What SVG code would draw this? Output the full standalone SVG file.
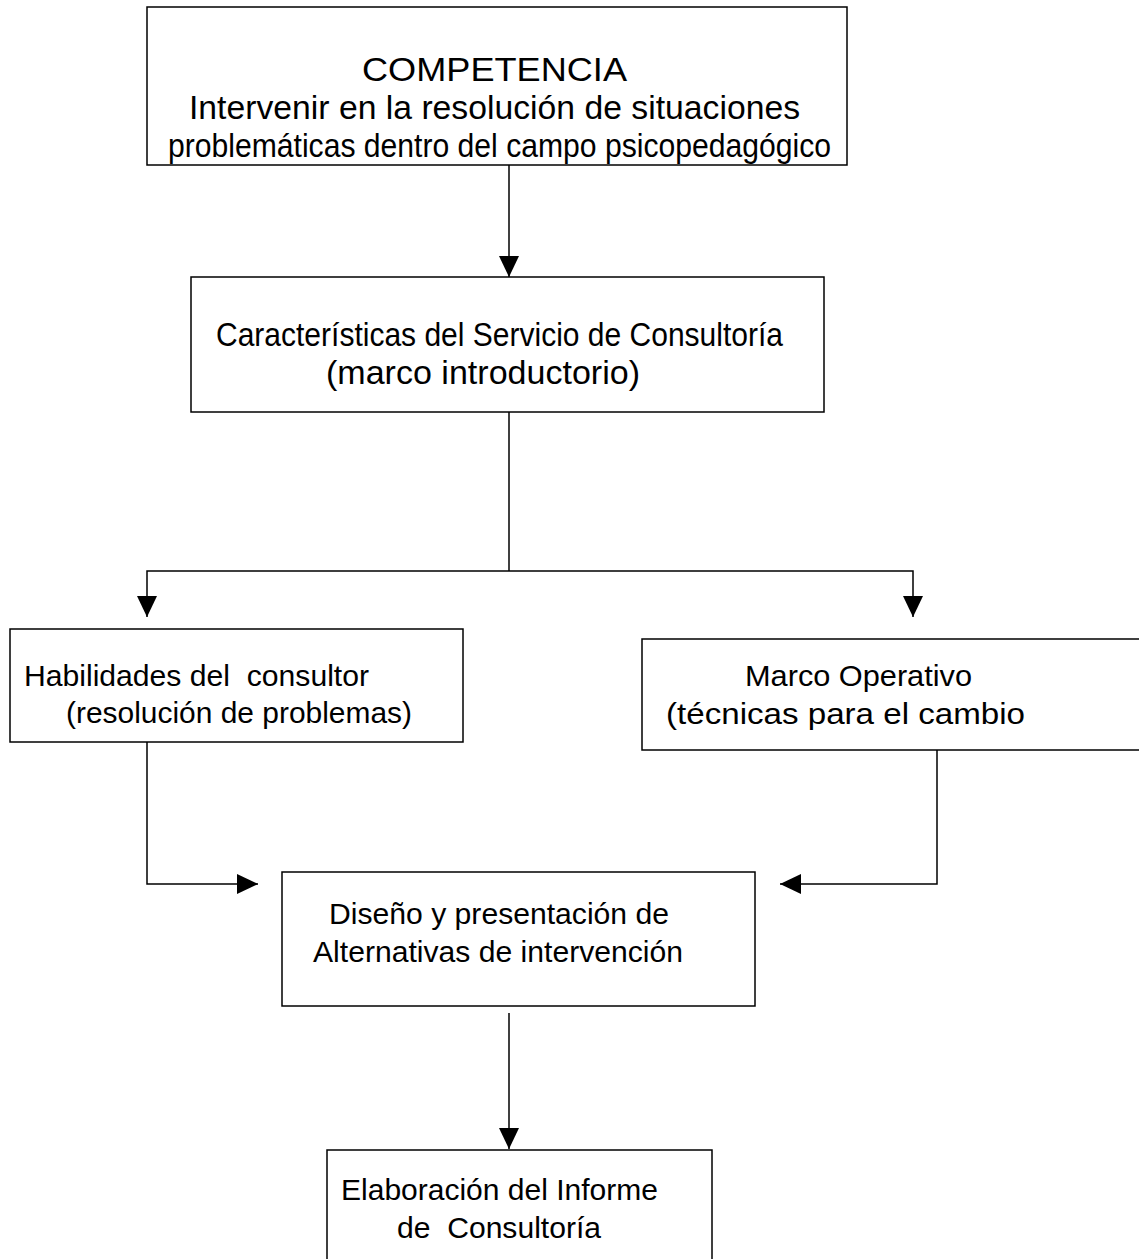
<svg xmlns="http://www.w3.org/2000/svg" width="1139" height="1259" viewBox="0 0 1139 1259">
<style>
.box{fill:#fff;stroke:#000;stroke-width:1.5}
.t{font-family:"Liberation Sans",Arial,sans-serif;font-size:29.5px;fill:#000}
.n{font-size:33px}
.c{fill:none;stroke:#000;stroke-width:1.5}
</style>
<defs>
<marker id="ah" viewBox="0 0 21 20" refX="21" refY="10" markerWidth="21" markerHeight="20" markerUnits="userSpaceOnUse" orient="auto">
<path d="M0,0 L21,10 L0,20 Z" fill="#000"/>
</marker>
</defs>
<rect width="1139" height="1259" fill="#fff"/>
<g id="connectors">
<path class="c" d="M509,165 V277" marker-end="url(#ah)"/>
<path class="c" d="M509,412 V571"/>
<path class="c" d="M509,571 H147 V617" marker-end="url(#ah)"/>
<path class="c" d="M509,571 H913 V617" marker-end="url(#ah)"/>
<path class="c" d="M147,742 V884 H258" marker-end="url(#ah)"/>
<path class="c" d="M937,717 V884 H780" marker-end="url(#ah)"/>
<path class="c" d="M509,1013 V1149" marker-end="url(#ah)"/>
</g>
<g id="competencia">
<rect class="box" x="147" y="7" width="700" height="158"/>
<text class="t n" x="362" y="81" textLength="265" lengthAdjust="spacingAndGlyphs">COMPETENCIA</text>
<text class="t n" x="189" y="119" textLength="611" lengthAdjust="spacingAndGlyphs">Intervenir en la resolución de situaciones</text>
<text class="t n" x="168" y="157" textLength="663" lengthAdjust="spacingAndGlyphs">problemáticas dentro del campo psicopedagógico</text>
</g>
<g id="caracteristicas">
<rect class="box" x="191" y="277" width="633" height="135"/>
<text class="t n" x="216" y="346" textLength="567" lengthAdjust="spacingAndGlyphs">Características del Servicio de Consultoría</text>
<text class="t n" x="326" y="384" textLength="314" lengthAdjust="spacingAndGlyphs">(marco introductorio)</text>
</g>
<g id="habilidades">
<rect class="box" x="10" y="629" width="453" height="113"/>
<text class="t" x="24" y="686" textLength="345" lengthAdjust="spacingAndGlyphs" xml:space="preserve">Habilidades del  consultor</text>
<text class="t" x="66" y="723" textLength="346" lengthAdjust="spacingAndGlyphs">(resolución de problemas)</text>
</g>
<g id="marco-operativo">
<rect class="box" x="642" y="639" width="510" height="111"/>
<text class="t" x="745" y="686" textLength="227" lengthAdjust="spacingAndGlyphs">Marco Operativo</text>
<text class="t" x="666" y="724" textLength="359" lengthAdjust="spacingAndGlyphs">(técnicas para el cambio</text>
</g>
<g id="diseno">
<rect class="box" x="282" y="872" width="473" height="134"/>
<text class="t" x="329" y="924" textLength="340" lengthAdjust="spacingAndGlyphs">Diseño y presentación de</text>
<text class="t" x="313" y="962" textLength="370" lengthAdjust="spacingAndGlyphs">Alternativas de intervención</text>
</g>
<g id="elaboracion">
<rect class="box" x="327" y="1150" width="385" height="120"/>
<text class="t" x="341" y="1200" textLength="317" lengthAdjust="spacingAndGlyphs">Elaboración del Informe</text>
<text class="t" x="397" y="1238" textLength="204" lengthAdjust="spacingAndGlyphs" xml:space="preserve">de  Consultoría</text>
</g>
</svg>
